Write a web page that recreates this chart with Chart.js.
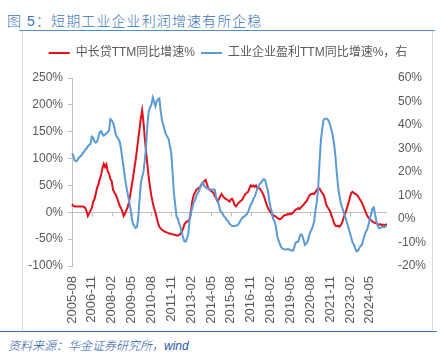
<!DOCTYPE html>
<html>
<head>
<meta charset="utf-8">
<script src="https://cdn.jsdelivr.net/npm/chart.js@4.4.1/dist/chart.umd.min.js"></script>
<style>
  body { margin: 0; width: 442px; height: 361px; background: #fff; overflow: hidden; position: relative;
         font-family: "Liberation Sans", "Noto Sans CJK SC", sans-serif; }
  #title { position: absolute; left: 7px; top: 10px; font-size: 14px; color: #3a74b8; letter-spacing: 1.1px;
           font-weight: 300; font-family: "Liberation Sans", "Noto Sans CJK SC", sans-serif; white-space: nowrap; }
  #rule { position: absolute; left: 19px; width: 416px; top: 30px; border-top: 1.5px solid #4f8fd0; }
  #frame { position: absolute; left: 22px; top: 31px; width: 409px; height: 300px;
           border-left: 1px solid #d9d9d9; border-right: 1px solid #d9d9d9; }
  #foot { position: absolute; left: 0; width: 437px; top: 331px; border-top: 1px solid #3b78c2; }
  #source { position: absolute; left: 8px; top: 336px; font-size: 12px; font-style: italic; font-weight: 300;
            color: #2856a8; white-space: nowrap; }
  #wrap { position: absolute; left: 0; top: 0; width: 442px; height: 361px; }
</style>
</head>
<body>
<div id="title">图 5：短期工业企业利润增速有所企稳</div>
<div id="rule"></div>
<div id="frame"></div>
<div id="foot"></div>
<div id="source">资料来源：华金证券研究所，wind</div>
<div id="wrap"><canvas id="chartCanvas"></canvas></div>

<script>
// monthly, 2005-08 .. 2025-06
const startYear = 2005;
const startMonth = 8;
const monthCount = 239;

const tickLabels = ['2005-08', '2006-11', '2008-02', '2009-05', '2010-08', '2011-11', '2013-02', '2014-05',
    '2015-08', '2016-11', '2018-02', '2019-05', '2020-08', '2021-11', '2023-02', '2024-05'];

// 中长贷TTM同比增速% (left axis)
const loanGrowth = [
    15, 12, 11, 11, 11, 11, 11, 11, 11, 10,
    8, 2, -7, -2, 3, 8, 20, 24, 35, 46,
    52, 62, 70, 82, 90, 84, 89, 76, 72, 62,
    58, 42, 37, 33, 27, 20, 12, 8, 2, -7,
    -3, 3, 9, 18, 32, 48, 62, 80, 96, 115,
    135, 155, 175, 190, 168, 138, 112, 88, 65, 46,
    30, 18, 8, 0, -10, -20, -27, -30, -33, -34,
    -36, -37, -38, -39, -40, -40, -41, -42, -42, -43,
    -43, -42, -40, -36, -30, -22, -19, -17, -16, -12,
    5, 22, 32, 37, 42, 44, 46, 47, 52, 56,
    58, 60, 52, 45, 42, 40, 38, 36, 30, 26,
    20, 24, 30, 34, 30, 27, 25, 24, 22, 20,
    24, 25, 20, 13, 11, 15, 18, 20, 22, 25,
    30, 34, 36, 38, 44, 50, 48, 50, 47, 50,
    46, 45, 44, 40, 36, 30, 22, 15, 8, 4,
    0, -3, -5, -7, -8, -10, -12, -13, -12, -9,
    -6, -5, -5, -3, -4, -2, -3, -1, 2, 5,
    6, 8, 6, 9, 12, 14, 18, 20, 24, 30,
    33, 34, 35, 34, 38, 42, 45, 44, 40, 36,
    33, 26, 15, 10, 6, 2, -5, -12, -20, -25,
    -26, -25, -27, -24, -20, -12, -5, 2, 10, 18,
    28, 36, 38, 36, 34, 33, 30, 26, 22, 18,
    12, 6, 0, -6, -10, -13, -15, -17, -19, -20,
    -20, -22, -23, -22, -24, -23, -24, -23, -22
];

// 工业企业盈利TTM同比增速% (right axis)
const profitGrowth = [
    28, 27, 25, 24.5, 25, 26, 26.5, 27, 28, 28.5,
    29.5, 30, 31, 31.5, 32, 35, 34.5, 33, 32.5, 33,
    35, 37, 37.4, 36, 35.5, 36, 36.5, 37, 37.5, 42.5,
    42, 41, 39, 36, 35, 34, 33, 30, 26, 22,
    17.5, 14, 11, 8, 5, 1, -2, -3, -3.8, -3.5,
    0, 8, 15, 18, 20, 25, 31, 40, 46, 47.5,
    48.5, 51.7, 50, 48, 50, 51, 51.3, 46, 42, 40,
    38, 36, 35, 34, 31, 28, 20, 11, 6, 1,
    0, -2, -3.5, -6, -8, -9.6, -9.6, -8, -6, 1,
    3, 5, 7, 8, 10, 11, 12, 14, 15, 15.5,
    14, 13.5, 13, 13, 12.8, 12.5, 12.5, 12.6, 12.3, 9,
    8, 6, 3.5, 3, 2, 1, 0.5, -0.5, -1, -2,
    -2.5, -3, -3, -3, -2.8, -2.7, -2, -1, 0, 0.7,
    1, 1.5, 2, 3, 4.5, 6, 7, 8.5, 9.5, 11,
    13, 14, 15, 15.5, 16.5, 17, 16.5, 14, 12, 8,
    5, 3, 0, -1, -3, -7, -9, -10.5, -12, -12.5,
    -12.8, -13, -13, -12.8, -13, -13.2, -13.4, -13.5, -12, -10,
    -9.8, -9.6, -7.5, -6.5, -7, -9, -11, -10.5, -9.6, -7.5,
    -5.5, -4.5, -3, -1, 4, 7.5, 13, 24, 33, 38,
    42, 42.7, 42.7, 42.5, 41.7, 40, 38, 35.5, 32, 27,
    20, 14, 10, 7, 5, 3.5, 1.5, 0, -2, -4,
    -6, -8, -10, -11, -12.5, -13.8, -13.5, -12.5, -11.5, -11,
    -9, -7, -5.5, -4.5, -2.5, 0, 2, 4.5, 5, 2,
    -1, -3, -4, -3.8, -3.5, -3.2, -3.5, -3, -3
];

const months = [];
for (let i = 0; i < monthCount; i++) {
    const m = startMonth - 1 + i;
    const y = startYear + Math.floor(m / 12);
    months.push(`${y}-${String(m % 12 + 1).padStart(2, '0')}`);
}

const axisGrey = '#bfbfbf';
const textGrey = '#595959';

// extra room between legend and plot
const legendGap = {
    id: 'legendGap',
    beforeInit(chart) {
        const fit = chart.legend.fit;
        chart.legend.fit = function () {
            fit.call(this);
            this.height += 9;
        };
    }
};

// small tick marks hanging from the 0% line, like the excel category axis
const zeroAxisTicks = {
    id: 'zeroAxisTicks',
    beforeDatasetsDraw(chart) {
        const { ctx, scales: { x, y } } = chart;
        const y0 = Math.round(y.getPixelForValue(0)) + 0.5;
        ctx.save();
        ctx.strokeStyle = axisGrey;
        ctx.lineWidth = 1;
        ctx.beginPath();
        months.forEach((m, i) => {
            if (!tickLabels.includes(m)) return;
            const px = Math.round(x.getPixelForValue(i)) + 0.5;
            ctx.moveTo(px, y0);
            ctx.lineTo(px, y0 + 4);
        });
        ctx.stroke();
        ctx.restore();
    }
};

new Chart(document.getElementById('chartCanvas'), {
    type: 'line',
    data: {
        labels: months,
        datasets: [
            {
                label: '中长贷TTM同比增速%',
                data: loanGrowth,
                yAxisID: 'y',
                borderColor: '#e3101b',
                backgroundColor: '#e3101b',
                borderWidth: 2,
                pointRadius: 0,
                order: 1
            },
            {
                label: '工业企业盈利TTM同比增速%，右',
                data: profitGrowth,
                yAxisID: 'y1',
                borderColor: '#5b9bd5',
                backgroundColor: '#5b9bd5',
                borderWidth: 2,
                pointRadius: 0,
                order: 0
            }
        ]
    },
    options: {
        responsive: true,
        maintainAspectRatio: false,
        animation: false,
        layout: { padding: { top: 41, left: 22, right: 8, bottom: 10 } },
        plugins: {
            tooltip: { enabled: false },
            legend: {
                position: 'top',
                labels: {
                    usePointStyle: true,
                    pointStyle: 'line',
                    pointStyleWidth: 21,
                    color: textGrey,
                    font: { size: 12, family: '"Liberation Sans", "Noto Sans CJK SC", sans-serif' },
                    padding: 6,
                    sort: (a, b) => a.datasetIndex - b.datasetIndex
                }
            }
        },
        scales: {
            x: {
                type: 'category',
                offset: false,
                grid: { display: false, drawTicks: false },
                border: { display: false },
                ticks: {
                    autoSkip: false,
                    minRotation: 90,
                    maxRotation: 90,
                    padding: 10,
                    color: textGrey,
                    font: { size: 13, family: '"Liberation Sans", sans-serif' },
                    callback: function (value) {
                        const label = this.getLabelForValue(value);
                        return tickLabels.includes(label) ? label : null;
                    }
                },
                afterFit: (scale) => { scale.height = 85; }
            },
            y: {
                position: 'left',
                min: -100,
                max: 250,
                grid: {
                    color: (c) => (c.tick && c.tick.value === 0 ? axisGrey : 'rgba(0,0,0,0)'),
                    tickColor: axisGrey,
                    tickLength: 4
                },
                border: { display: true, color: axisGrey },
                ticks: {
                    stepSize: 50,
                    padding: 5,
                    color: textGrey,
                    font: { size: 12, family: '"Liberation Sans", sans-serif' },
                    callback: (v) => v + '%'
                },
                afterFit: (scale) => { scale.width = 50; }
            },
            y1: {
                position: 'right',
                min: -20,
                max: 60,
                grid: { display: false, drawTicks: false },
                border: { display: false },
                ticks: {
                    stepSize: 10,
                    padding: 11,
                    color: textGrey,
                    font: { size: 12, family: '"Liberation Sans", sans-serif' },
                    callback: (v) => v + '%'
                },
                afterFit: (scale) => { scale.width = 47; }
            }
        }
    },
    plugins: [legendGap, zeroAxisTicks]
});
</script>
</body>
</html>
